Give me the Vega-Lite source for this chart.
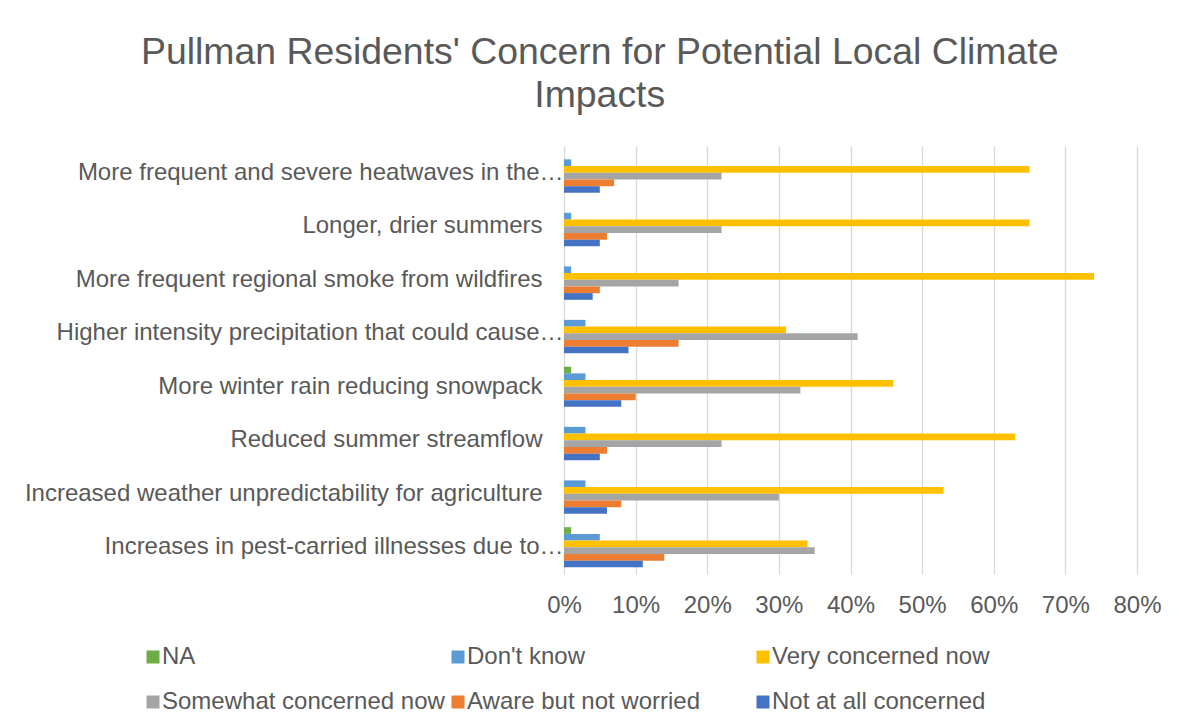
{
  "$schema": "https://vega.github.io/schema/vega-lite/v6.json",
  "width": 573,
  "height": 428,
  "autosize": "none",
  "padding": {"left": 564, "top": 146, "right": 42, "bottom": 149},
  "background": "white",
  "title": {
    "text": ["Pullman Residents' Concern for Potential Local Climate", "Impacts"],
    "font": "Liberation Sans",
    "fontSize": 37.4,
    "fontWeight": "normal",
    "color": "#595959",
    "anchor": "middle",
    "frame": "bounds",
    "offset": 32,
    "dx": 7,
    "lineHeight": 43
  },
  "config": {
    "view": {"stroke": null},
    "font": "Liberation Sans"
  },
  "data": {
    "values": [
      {"impact": "More frequent and severe heatwaves in the…", "response": "NA", "share": 0},
      {"impact": "More frequent and severe heatwaves in the…", "response": "Don't know", "share": 0.01},
      {"impact": "More frequent and severe heatwaves in the…", "response": "Very concerned now", "share": 0.65},
      {"impact": "More frequent and severe heatwaves in the…", "response": "Somewhat concerned now", "share": 0.22},
      {"impact": "More frequent and severe heatwaves in the…", "response": "Aware but not worried", "share": 0.07},
      {"impact": "More frequent and severe heatwaves in the…", "response": "Not at all concerned", "share": 0.05},
      {"impact": "Longer, drier summers", "response": "NA", "share": 0},
      {"impact": "Longer, drier summers", "response": "Don't know", "share": 0.01},
      {"impact": "Longer, drier summers", "response": "Very concerned now", "share": 0.65},
      {"impact": "Longer, drier summers", "response": "Somewhat concerned now", "share": 0.22},
      {"impact": "Longer, drier summers", "response": "Aware but not worried", "share": 0.06},
      {"impact": "Longer, drier summers", "response": "Not at all concerned", "share": 0.05},
      {"impact": "More frequent regional smoke from wildfires", "response": "NA", "share": 0},
      {"impact": "More frequent regional smoke from wildfires", "response": "Don't know", "share": 0.01},
      {"impact": "More frequent regional smoke from wildfires", "response": "Very concerned now", "share": 0.74},
      {"impact": "More frequent regional smoke from wildfires", "response": "Somewhat concerned now", "share": 0.16},
      {"impact": "More frequent regional smoke from wildfires", "response": "Aware but not worried", "share": 0.05},
      {"impact": "More frequent regional smoke from wildfires", "response": "Not at all concerned", "share": 0.04},
      {"impact": "Higher intensity precipitation that could cause…", "response": "NA", "share": 0},
      {"impact": "Higher intensity precipitation that could cause…", "response": "Don't know", "share": 0.03},
      {"impact": "Higher intensity precipitation that could cause…", "response": "Very concerned now", "share": 0.31},
      {"impact": "Higher intensity precipitation that could cause…", "response": "Somewhat concerned now", "share": 0.41},
      {"impact": "Higher intensity precipitation that could cause…", "response": "Aware but not worried", "share": 0.16},
      {"impact": "Higher intensity precipitation that could cause…", "response": "Not at all concerned", "share": 0.09},
      {"impact": "More winter rain reducing snowpack", "response": "NA", "share": 0.01},
      {"impact": "More winter rain reducing snowpack", "response": "Don't know", "share": 0.03},
      {"impact": "More winter rain reducing snowpack", "response": "Very concerned now", "share": 0.46},
      {"impact": "More winter rain reducing snowpack", "response": "Somewhat concerned now", "share": 0.33},
      {"impact": "More winter rain reducing snowpack", "response": "Aware but not worried", "share": 0.10},
      {"impact": "More winter rain reducing snowpack", "response": "Not at all concerned", "share": 0.08},
      {"impact": "Reduced summer streamflow", "response": "NA", "share": 0},
      {"impact": "Reduced summer streamflow", "response": "Don't know", "share": 0.03},
      {"impact": "Reduced summer streamflow", "response": "Very concerned now", "share": 0.63},
      {"impact": "Reduced summer streamflow", "response": "Somewhat concerned now", "share": 0.22},
      {"impact": "Reduced summer streamflow", "response": "Aware but not worried", "share": 0.06},
      {"impact": "Reduced summer streamflow", "response": "Not at all concerned", "share": 0.05},
      {"impact": "Increased weather unpredictability for agriculture", "response": "NA", "share": 0},
      {"impact": "Increased weather unpredictability for agriculture", "response": "Don't know", "share": 0.03},
      {"impact": "Increased weather unpredictability for agriculture", "response": "Very concerned now", "share": 0.53},
      {"impact": "Increased weather unpredictability for agriculture", "response": "Somewhat concerned now", "share": 0.30},
      {"impact": "Increased weather unpredictability for agriculture", "response": "Aware but not worried", "share": 0.08},
      {"impact": "Increased weather unpredictability for agriculture", "response": "Not at all concerned", "share": 0.06},
      {"impact": "Increases in pest-carried illnesses due to…", "response": "NA", "share": 0.01},
      {"impact": "Increases in pest-carried illnesses due to…", "response": "Don't know", "share": 0.05},
      {"impact": "Increases in pest-carried illnesses due to…", "response": "Very concerned now", "share": 0.34},
      {"impact": "Increases in pest-carried illnesses due to…", "response": "Somewhat concerned now", "share": 0.35},
      {"impact": "Increases in pest-carried illnesses due to…", "response": "Aware but not worried", "share": 0.14},
      {"impact": "Increases in pest-carried illnesses due to…", "response": "Not at all concerned", "share": 0.11}
    ]
  },
  "mark": {"type": "bar"},
  "encoding": {
    "y": {
      "field": "impact",
      "type": "nominal",
      "sort": null,
      "scale": {"paddingInner": 0.25, "paddingOuter": 0.125},
      "axis": {
        "title": null,
        "domain": false,
        "ticks": false,
        "labelFont": "Liberation Sans",
        "labelFontSize": 24,
        "labelColor": "#595959",
        "labelPadding": 1,
        "labelLimit": 700,
        "encoding": {
          "labels": {
            "dx": {
              "condition": {"test": "test(/…$/, datum.value)", "value": 0},
              "value": -21
            }
          }
        }
      }
    },
    "yOffset": {
      "field": "response",
      "type": "nominal",
      "sort": ["NA", "Don't know", "Very concerned now", "Somewhat concerned now", "Aware but not worried", "Not at all concerned"],
      "scale": {"paddingInner": 0, "paddingOuter": 0}
    },
    "x": {
      "field": "share",
      "type": "quantitative",
      "scale": {"domain": [0, 0.8], "nice": false},
      "axis": {
        "title": null,
        "format": ".0%",
        "values": [0, 0.1, 0.2, 0.3, 0.4, 0.5, 0.6, 0.7, 0.8],
        "domain": false,
        "ticks": false,
        "grid": true,
        "gridColor": "#d9d9d9",
        "gridWidth": 1.3,
        "labelOverlap": false,
        "labelFlush": false,
        "labelBound": false,
        "labelFont": "Liberation Sans",
        "labelFontSize": 24,
        "labelColor": "#595959",
        "labelPadding": 19
      }
    },
    "color": {
      "field": "response",
      "type": "nominal",
      "sort": ["NA", "Don't know", "Very concerned now", "Somewhat concerned now", "Aware but not worried", "Not at all concerned"],
      "scale": {
        "domain": ["NA", "Don't know", "Very concerned now", "Somewhat concerned now", "Aware but not worried", "Not at all concerned"],
        "range": ["#70AD47", "#5B9BD5", "#FFC000", "#A5A5A5", "#ED7D31", "#4472C4"]
      },
      "legend": {
        "orient": "none",
        "direction": "horizontal",
        "legendX": -423,
        "legendY": 499,
        "columns": 3,
        "gridAlign": "all",
        "title": null,
        "padding": 0,
        "labelFont": "Liberation Sans",
        "labelFontSize": 24,
        "labelColor": "#595959",
        "labelLimit": 400,
        "labelOffset": -3,
        "symbolType": "square",
        "symbolSize": 169,
        "symbolStrokeWidth": 0,
        "columnPadding": 1,
        "rowPadding": 21
      }
    }
  }
}
